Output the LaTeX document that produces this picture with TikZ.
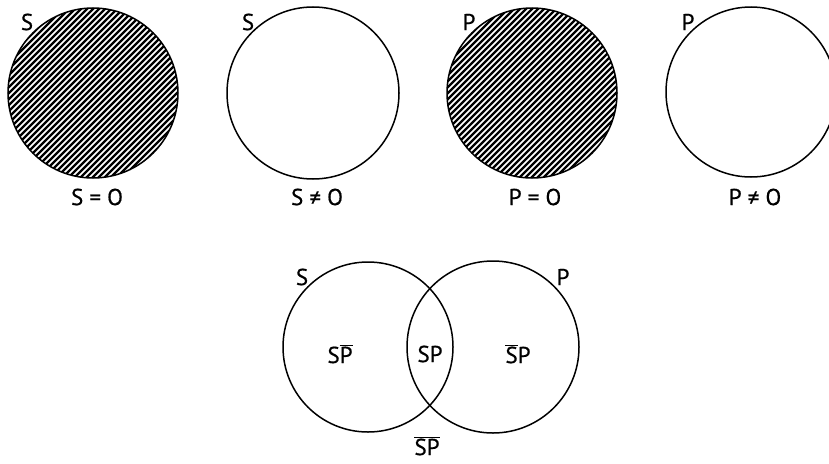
\documentclass[tikz,border=0pt]{standalone}
\usepackage{fontspec}
\setmainfont[FakeBold=0.6,AutoFakeBold=0.6]{PT Sans}
\usetikzlibrary{calc}
\newcommand{\ob}[1]{$\overline{\mbox{#1}}$}
\begin{document}
\begin{tikzpicture}[x=1pt,y=-1pt,
  circ/.style={draw=black,line width=1.5pt},
  lbl/.style={font=\fontsize{23}{23}\selectfont\bfseries,inner sep=0pt},
  hatchline/.style={line width=2.2pt}]
\useasboundingbox (0,0) rectangle (829,463);
% circle centres
\coordinate (c1) at (93,93);
\coordinate (c2) at (313,93);
\coordinate (c3) at (532,93);
\coordinate (c4) at (751,92);
\coordinate (vl) at (368,347);
\coordinate (vr) at (493,347);
% hatched circles
\begin{scope}
  \clip (c1) circle (85);
  \foreach \k in {-40,...,40} {
    \draw[hatchline] ($(c1)+(\k*6-100,100)$) -- ++(200,-200);
  }
\end{scope}
\begin{scope}
  \clip (c3) circle (85);
  \foreach \k in {-40,...,40} {
    \draw[hatchline] ($(c3)+(\k*6-100,100)$) -- ++(200,-200);
  }
\end{scope}
\draw[circ] (c1) circle (85);
\draw[circ] (c2) circle (86);
\draw[circ] (c3) circle (85);
\draw[circ] (c4) circle (85);
\draw[circ] (vl) circle (85);
\draw[circ] (vr) circle (86);
% labels
\node[lbl] (s1) at (27,22) {S};
\node[lbl] (e1) at (97,197) {S = O};
\node[lbl] (s2) at (248,22) {S};
\node[lbl] (e2) at (317,197) {S ≠ O};
\node[lbl] (p3) at (469,22) {P};
\node[lbl] (e3) at (535,197) {P = O};
\node[lbl] (p4) at (688,22) {P};
\node[lbl] (e4) at (755,197) {P ≠ O};
\node[lbl] (vs) at (302,277) {S};
\node[lbl] (vp) at (563,277) {P};
\node[lbl] (r1) at (340,354) {S\ob{P}};
\node[lbl] (r2) at (430,354) {SP};
\node[lbl] (r3) at (518,354) {\ob{S}P};
\node[lbl] (r4) at (427,446) {\ob{SP}};
\end{tikzpicture}
\end{document}
